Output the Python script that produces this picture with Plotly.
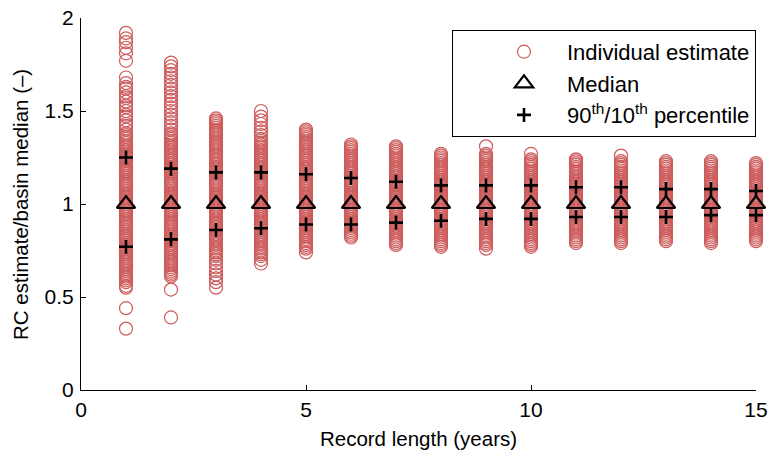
import plotly.graph_objects as go

record_length = list(range(1, 16))

estimates = {
    1: [1.92, 1.89, 1.87, 1.84, 1.81, 1.77, 1.68, 1.65, 1.63, 1.62, 1.60, 1.58, 1.57, 1.55, 1.53, 1.52, 1.50, 1.48,
        1.47, 1.45, 1.43, 1.42, 1.40,
        1.38, 1.37, 1.36, 1.35, 1.34, 1.33, 1.32, 1.31, 1.30, 1.29, 1.28, 1.27, 1.26, 1.25, 1.24, 1.23, 1.22, 1.21,
        1.20, 1.19, 1.18, 1.17, 1.16, 1.15, 1.14, 1.13, 1.12, 1.11, 1.10, 1.09, 1.08, 1.07, 1.06, 1.05, 1.04, 1.03,
        1.02, 1.01, 1.00, 0.99, 0.98, 0.97, 0.96, 0.95, 0.94, 0.93, 0.92, 0.91, 0.90, 0.89, 0.88, 0.87, 0.86, 0.85,
        0.84, 0.83, 0.82, 0.81, 0.80, 0.79, 0.78, 0.77, 0.76, 0.75, 0.74, 0.73, 0.72, 0.71, 0.70, 0.69, 0.68, 0.67,
        0.66, 0.65, 0.64, 0.63, 0.62, 0.61, 0.60, 0.59, 0.58,
        0.56, 0.55, 0.44, 0.33],
    2: [1.76, 1.74, 1.72, 1.70, 1.68, 1.66, 1.64, 1.62, 1.60, 1.58, 1.56, 1.54, 1.52, 1.50, 1.48, 1.46, 1.44, 1.42,
        1.40,
        1.38, 1.37, 1.36, 1.35, 1.34, 1.33, 1.32, 1.31, 1.30, 1.29, 1.28, 1.27, 1.26, 1.25, 1.24, 1.23, 1.22, 1.21,
        1.20, 1.19, 1.18, 1.17, 1.16, 1.15, 1.14, 1.13, 1.12, 1.11, 1.10, 1.09, 1.08, 1.07, 1.06, 1.05, 1.04, 1.03,
        1.02, 1.01, 1.00, 0.99, 0.98, 0.97, 0.96, 0.95, 0.94, 0.93, 0.92, 0.91, 0.90, 0.89, 0.88, 0.87, 0.86, 0.85,
        0.84, 0.83, 0.82, 0.81, 0.80, 0.79, 0.78, 0.77, 0.76, 0.75, 0.74, 0.73, 0.72, 0.71, 0.70, 0.69, 0.68, 0.67,
        0.66, 0.65, 0.64, 0.63, 0.62, 0.61,
        0.54, 0.39],
    3: [1.46, 1.45,
        1.44, 1.43, 1.42, 1.41, 1.40, 1.39, 1.38, 1.37, 1.36, 1.35, 1.34, 1.33, 1.32, 1.31, 1.30, 1.29, 1.28, 1.27,
        1.26, 1.25, 1.24, 1.23, 1.22, 1.21, 1.20, 1.19, 1.18, 1.17, 1.16, 1.15, 1.14, 1.13, 1.12, 1.11, 1.10, 1.09,
        1.08, 1.07, 1.06, 1.05, 1.04, 1.03, 1.02, 1.01, 1.00, 0.99, 0.98, 0.97, 0.96, 0.95, 0.94, 0.93, 0.92, 0.91,
        0.90, 0.89, 0.88, 0.87, 0.86, 0.85, 0.84, 0.83, 0.82, 0.81, 0.80, 0.79, 0.78, 0.77, 0.76, 0.75, 0.74, 0.73,
        0.72,
        0.70, 0.68, 0.66, 0.64, 0.62, 0.60, 0.58, 0.55],
    4: [1.50, 1.47, 1.45, 1.43, 1.41, 1.39, 1.37,
        1.35, 1.34, 1.33, 1.32, 1.31, 1.30, 1.29, 1.28, 1.27, 1.26, 1.25, 1.24, 1.23, 1.22, 1.21, 1.20, 1.19, 1.18,
        1.17, 1.16, 1.15, 1.14, 1.13, 1.12, 1.11, 1.10, 1.09, 1.08, 1.07, 1.06, 1.05, 1.04, 1.03, 1.02, 1.01, 1.00,
        0.99, 0.98, 0.97, 0.96, 0.95, 0.94, 0.93, 0.92, 0.91, 0.90, 0.89, 0.88, 0.87, 0.86, 0.85, 0.84, 0.83, 0.82,
        0.81, 0.80, 0.79, 0.78, 0.77, 0.76, 0.75, 0.74, 0.73, 0.72,
        0.70, 0.68],
    5: [1.40, 1.39,
        1.38, 1.37, 1.36, 1.35, 1.34, 1.33, 1.32, 1.31, 1.30, 1.29, 1.28, 1.27, 1.26, 1.25, 1.24, 1.23, 1.22, 1.21,
        1.20, 1.19, 1.18, 1.17, 1.16, 1.15, 1.14, 1.13, 1.12, 1.11, 1.10, 1.09, 1.08, 1.07, 1.06, 1.05, 1.04, 1.03,
        1.02, 1.01, 1.00, 0.99, 0.98, 0.97, 0.96, 0.95, 0.94, 0.93, 0.92, 0.91, 0.90, 0.89, 0.88, 0.87, 0.86, 0.85,
        0.84, 0.83, 0.82, 0.81, 0.80, 0.79, 0.78, 0.77, 0.76,
        0.74],
    6: [1.32, 1.31, 1.30, 1.29, 1.28, 1.27, 1.26, 1.25, 1.24, 1.23, 1.22, 1.21, 1.20, 1.19, 1.18, 1.17, 1.16, 1.15,
        1.14, 1.13, 1.12, 1.11, 1.10, 1.09, 1.08, 1.07, 1.06, 1.05, 1.04, 1.03, 1.02, 1.01, 1.00, 0.99, 0.98, 0.97,
        0.96, 0.95, 0.94, 0.93, 0.92, 0.91, 0.90, 0.89, 0.88, 0.87, 0.86, 0.85, 0.84, 0.83, 0.82],
    7: [1.31,
        1.30, 1.29, 1.28, 1.27, 1.26, 1.25, 1.24, 1.23, 1.22, 1.21, 1.20, 1.19, 1.18, 1.17, 1.16, 1.15, 1.14, 1.13,
        1.12, 1.11, 1.10, 1.09, 1.08, 1.07, 1.06, 1.05, 1.04, 1.03, 1.02, 1.01, 1.00, 0.99, 0.98, 0.97, 0.96, 0.95,
        0.94, 0.93, 0.92, 0.91, 0.90, 0.89, 0.88, 0.87, 0.86, 0.85, 0.84, 0.83, 0.82, 0.81, 0.80, 0.79,
        0.78],
    8: [1.27, 1.26, 1.25, 1.24, 1.23, 1.22, 1.21, 1.20, 1.19, 1.18, 1.17, 1.16, 1.15, 1.14, 1.13, 1.12, 1.11, 1.10,
        1.09, 1.08, 1.07, 1.06, 1.05, 1.04, 1.03, 1.02, 1.01, 1.00, 0.99, 0.98, 0.97, 0.96, 0.95, 0.94, 0.93, 0.92,
        0.91, 0.90, 0.89, 0.88, 0.87, 0.86, 0.85, 0.84, 0.83, 0.82, 0.81, 0.80, 0.79, 0.78,
        0.77],
    9: [1.31, 1.27,
        1.26, 1.25, 1.24, 1.23, 1.22, 1.21, 1.20, 1.19, 1.18, 1.17, 1.16, 1.15, 1.14, 1.13, 1.12, 1.11, 1.10, 1.09,
        1.08, 1.07, 1.06, 1.05, 1.04, 1.03, 1.02, 1.01, 1.00, 0.99, 0.98, 0.97, 0.96, 0.95, 0.94, 0.93, 0.92, 0.91,
        0.90, 0.89, 0.88, 0.87, 0.86, 0.85, 0.84, 0.83, 0.82, 0.81, 0.80, 0.79, 0.78,
        0.76],
    10: [1.27,
         1.24, 1.23, 1.22, 1.21, 1.20, 1.19, 1.18, 1.17, 1.16, 1.15, 1.14, 1.13, 1.12, 1.11, 1.10, 1.09, 1.08, 1.07,
         1.06, 1.05, 1.04, 1.03, 1.02, 1.01, 1.00, 0.99, 0.98, 0.97, 0.96, 0.95, 0.94, 0.93, 0.92, 0.91, 0.90, 0.89,
         0.88, 0.87, 0.86, 0.85, 0.84, 0.83, 0.82, 0.81, 0.80, 0.79, 0.78,
         0.77],
    11: [1.24, 1.23, 1.22, 1.21, 1.20, 1.19, 1.18, 1.17, 1.16, 1.15, 1.14, 1.13, 1.12, 1.11, 1.10, 1.09, 1.08, 1.07,
         1.06, 1.05, 1.04, 1.03, 1.02, 1.01, 1.00, 0.99, 0.98, 0.97, 0.96, 0.95, 0.94, 0.93, 0.92, 0.91, 0.90, 0.89,
         0.88, 0.87, 0.86, 0.85, 0.84, 0.83, 0.82, 0.81, 0.80,
         0.79],
    12: [1.26,
         1.23, 1.22, 1.21, 1.20, 1.19, 1.18, 1.17, 1.16, 1.15, 1.14, 1.13, 1.12, 1.11, 1.10, 1.09, 1.08, 1.07, 1.06,
         1.05, 1.04, 1.03, 1.02, 1.01, 1.00, 0.99, 0.98, 0.97, 0.96, 0.95, 0.94, 0.93, 0.92, 0.91, 0.90, 0.89, 0.88,
         0.87, 0.86, 0.85, 0.84, 0.83, 0.82, 0.81, 0.80,
         0.79],
    13: [1.23, 1.22, 1.21, 1.20, 1.19, 1.18, 1.17, 1.16, 1.15, 1.14, 1.13, 1.12, 1.11, 1.10, 1.09, 1.08, 1.07, 1.06,
         1.05, 1.04, 1.03, 1.02, 1.01, 1.00, 0.99, 0.98, 0.97, 0.96, 0.95, 0.94, 0.93, 0.92, 0.91, 0.90, 0.89, 0.88,
         0.87, 0.86, 0.85, 0.84, 0.83, 0.82, 0.81,
         0.80],
    14: [1.23, 1.22, 1.21, 1.20, 1.19, 1.18, 1.17, 1.16, 1.15, 1.14, 1.13, 1.12, 1.11, 1.10, 1.09, 1.08, 1.07, 1.06,
         1.05, 1.04, 1.03, 1.02, 1.01, 1.00, 0.99, 0.98, 0.97, 0.96, 0.95, 0.94, 0.93, 0.92, 0.91, 0.90, 0.89, 0.88,
         0.87, 0.86, 0.85, 0.84, 0.83, 0.82, 0.81, 0.80,
         0.79],
    15: [1.22, 1.21, 1.20, 1.19, 1.18, 1.17, 1.16, 1.15, 1.14, 1.13, 1.12, 1.11, 1.10, 1.09, 1.08, 1.07, 1.06, 1.05,
         1.04, 1.03, 1.02, 1.01, 1.00, 0.99, 0.98, 0.97, 0.96, 0.95, 0.94, 0.93, 0.92, 0.91, 0.90, 0.89, 0.88, 0.87,
         0.86, 0.85, 0.84, 0.83, 0.82, 0.81,
         0.80],
}

median = [1.0] * 15
p90 = [1.25, 1.19, 1.17, 1.17, 1.16, 1.14, 1.12, 1.10, 1.10, 1.10, 1.09, 1.09, 1.08, 1.08, 1.07]
p10 = [0.77, 0.81, 0.86, 0.87, 0.89, 0.89, 0.90, 0.91, 0.92, 0.92, 0.93, 0.93, 0.93, 0.94, 0.94]

x_ticks = [0, 5, 10, 15]
y_ticks = [0, 0.5, 1, 1.5, 2]
y_ticklabels = ["0", "0.5", "1", "1.5", "2"]

red = "#CD5C5C"
font = "Liberation Sans, Arial, sans-serif"

ex, ey = [], []
for k in record_length:
    ex += [k] * len(estimates[k])
    ey += estimates[k]

fig = go.Figure()
fig.add_trace(go.Scatter(
    x=ex, y=ey, mode="markers", name="Individual estimate", cliponaxis=False, legendgroup="a",
    marker=dict(symbol="circle-open", size=13, color=red, line=dict(width=1.2, color=red)),
))
fig.add_trace(go.Scatter(
    x=record_length, y=median, mode="markers", name="Median", cliponaxis=False, legendgroup="b",
    marker=dict(symbol="triangle-up-open", size=16, color="black", line=dict(width=2.2, color="black")),
))
fig.add_trace(go.Scatter(
    x=record_length + record_length, y=p90 + p10, mode="markers", legendgroup="c",
    name="90<sup>th</sup>/10<sup>th</sup> percentile", cliponaxis=False,
    marker=dict(symbol="cross-thin-open", size=10, color="black", line=dict(width=2.6, color="black")),
))

axis_common = dict(
    showline=True, linecolor="black", linewidth=1, ticks="inside", ticklen=5, tickcolor="black",
    showgrid=False, zeroline=False, mirror=False, automargin=False,
    tickfont=dict(size=21, color="black", family=font),
)

fig.update_layout(
    width=770, height=450,
    margin=dict(l=81, r=14, t=18, b=60),
    plot_bgcolor="white", paper_bgcolor="white",
    font=dict(family=font, color="black"),
    xaxis=dict(range=[0, 15], tickvals=x_ticks, ticklabelstandoff=1,
               title=dict(text="Record length (years)", font=dict(size=20.5), standoff=15), **axis_common),
    yaxis=dict(range=[0, 2], tickvals=y_ticks, ticktext=y_ticklabels, ticklabelstandoff=2, **axis_common),
    legend=dict(x=1.0, y=0.968, xanchor="right", yanchor="top", bgcolor="white",
                bordercolor="black", borderwidth=1, font=dict(size=22, color="black"),
                itemwidth=76, indentation=28, tracegroupgap=0),
    showlegend=True,
    annotations=[dict(text="RC estimate/basin median (–)", textangle=-90, xref="paper", yref="paper",
                      x=-0.0904, y=0.5, xanchor="center", yanchor="middle", showarrow=False,
                      font=dict(size=20.5, color="black", family=font))],
)

fig.write_html("out.html", config={"displayModeBar": False},
               post_script="document.body.style.margin='0px';document.body.style.overflow='hidden';")
